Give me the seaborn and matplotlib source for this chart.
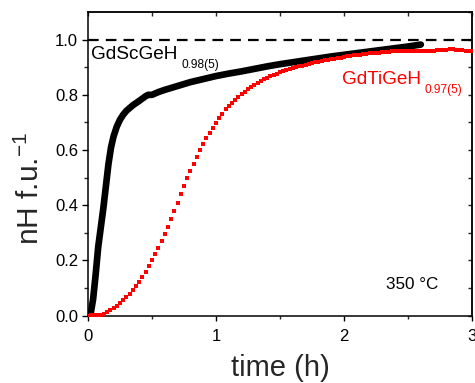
import numpy as np
import pandas as pd
import matplotlib
matplotlib.use("Agg")
import matplotlib.pyplot as plt
import seaborn as sns

# ---- data ----
sc_time = [0.000, 0.020, 0.040, 0.060, 0.080, 0.100, 0.120, 0.140, 0.160, 0.180,
           0.200, 0.225, 0.250, 0.275, 0.300, 0.350, 0.400, 0.450, 0.470, 0.500,
           0.550, 0.600, 0.700, 0.800, 0.900, 1.000, 1.100, 1.200, 1.300, 1.400,
           1.500, 1.600, 1.700, 1.800, 1.900, 2.000, 2.100, 2.200, 2.300, 2.400,
           2.500, 2.600]
sc_nh = [0.000, 0.005, 0.060, 0.150, 0.250, 0.320, 0.390, 0.470, 0.550, 0.610,
         0.650, 0.685, 0.710, 0.728, 0.742, 0.762, 0.778, 0.795, 0.800, 0.800,
         0.810, 0.818, 0.832, 0.846, 0.857, 0.868, 0.877, 0.885, 0.894, 0.903,
         0.911, 0.918, 0.925, 0.932, 0.939, 0.945, 0.951, 0.957, 0.963, 0.969,
         0.975, 0.982]

ti_time = [round(0.025 * i, 3) for i in range(121)]
ti_nh = [0.000, 0.001, 0.002, 0.003, 0.004, 0.007, 0.012, 0.019, 0.027, 0.036,
         0.046, 0.057, 0.068, 0.080, 0.093, 0.107, 0.122, 0.140, 0.160, 0.180,
         0.200, 0.222, 0.245, 0.270, 0.296, 0.323, 0.352, 0.381, 0.410, 0.440,
         0.470, 0.497, 0.523, 0.548, 0.575, 0.600, 0.622, 0.643, 0.662, 0.681,
         0.699, 0.716, 0.732, 0.747, 0.760, 0.772, 0.783, 0.793, 0.802, 0.811,
         0.820, 0.828, 0.836, 0.843, 0.850, 0.856, 0.862, 0.867, 0.872, 0.877,
         0.881, 0.885, 0.889, 0.893, 0.897, 0.900, 0.903, 0.906, 0.909, 0.912,
         0.915, 0.918, 0.920, 0.922, 0.925, 0.927, 0.929, 0.931, 0.933, 0.935,
         0.937, 0.939, 0.941, 0.943, 0.944, 0.946, 0.947, 0.948, 0.950, 0.951,
         0.952, 0.953, 0.954, 0.955, 0.956, 0.957, 0.957, 0.958, 0.958, 0.959,
         0.959, 0.959, 0.960, 0.960, 0.960, 0.960, 0.960, 0.960, 0.960, 0.961,
         0.961, 0.962, 0.963, 0.965, 0.966, 0.964, 0.962, 0.961, 0.960, 0.960,
         0.960]

x_ticks = [0, 1, 2, 3]
y_ticks = [0.0, 0.2, 0.4, 0.6, 0.8, 1.0]

sns.set_style("ticks")
plt.rcParams['font.family'] = ['Liberation Sans', 'DejaVu Sans']
plt.rcParams['mathtext.fontset'] = 'custom'
plt.rcParams['mathtext.rm'] = 'Liberation Sans'
plt.rcParams['mathtext.it'] = 'Liberation Sans:italic'
plt.rcParams['mathtext.bf'] = 'Liberation Sans:bold'

W, H = 475, 383
fig = plt.figure(figsize=(W / 100, H / 100), dpi=100)
L, R, T, B = 88, 472, 12, 315.7
ax = fig.add_axes([L / W, 1 - B / H, (R - L) / W, (B - T) / H])

df_sc = pd.DataFrame({"time": sc_time, "nH": sc_nh})
df_ti = pd.DataFrame({"time": ti_time, "nH": ti_nh})

ax.axhline(1.0, color='black', lw=1.6, linestyle=(0, (4.8, 3.2)), zorder=1)
sns.lineplot(data=df_sc, x="time", y="nH", ax=ax, color='black', lw=4.8,
             solid_capstyle='round', solid_joinstyle='round', zorder=3)
sns.scatterplot(data=df_ti, x="time", y="nH", ax=ax, color='#ff0000', marker='s',
                s=10, linewidth=0, zorder=4)

ax.set_xlim(0, 3)
ax.set_ylim(0, 1.1)
ax.set_xticks(x_ticks)
ax.set_xticklabels([str(v) for v in x_ticks])
ax.set_xticks([0.5, 1.5, 2.5], minor=True)
ax.set_yticks(y_ticks)
ax.set_yticklabels([f"{v:.1f}" for v in y_ticks])
ax.set_yticks([0.1, 0.3, 0.5, 0.7, 0.9], minor=True)

for sp in ax.spines.values():
    sp.set_linewidth(1.1)
    sp.set_color('black')

ax.tick_params(axis='both', which='major', direction='out', length=4.6, width=1.0,
               labelsize=12, colors='black', top=False, right=False)
ax.tick_params(axis='both', which='minor', direction='out', length=2.6, width=1.0,
               top=False, right=False)
ax.tick_params(axis='x', which='major', pad=5.5, length=3.8)
ax.tick_params(axis='x', which='minor', length=2.2)
ax.tick_params(axis='y', which='major', pad=2.5)

# top and right inward ticks
axt = ax.secondary_xaxis('top')
axt.set_xticks([0, 0.5, 1, 1.5, 2, 2.5, 3])
axt.tick_params(direction='in', length=3, width=1.0, labeltop=False)
axt.spines['top'].set_linewidth(1.1)
axr = ax.secondary_yaxis('right')
axr.set_yticks([0, 0.1, 0.2, 0.3, 0.4, 0.5, 0.6, 0.7, 0.8, 0.9, 1.0, 1.1])
axr.tick_params(direction='in', length=3, width=1.0, labelright=False)
axr.spines['right'].set_linewidth(1.1)

ax.set_xlabel("time (h)", fontsize=21)
ax.set_ylabel(r"nH f.u.$^{\mathregular{-1}}$", fontsize=21.5)
ax.yaxis.set_label_coords(-0.112, 0.42)
ax.xaxis.set_label_coords(0.5, -0.125)

# annotations
def px2data(px, py):
    return (px - L) / (R - L) * 3.0, (B - py) / (B - T) * 1.1

x0, y0 = px2data(91.5, 59)
ax.text(x0, y0, "GdScGeH", fontsize=13.7, color='black', va='baseline', ha='left')
x0, y0 = px2data(182, 68)
ax.text(x0, y0, "0.98(5)", fontsize=8.6, color='black', va='baseline', ha='left')
x0, y0 = px2data(342, 84)
ax.text(x0, y0, "GdTiGeH", fontsize=13.7, color='#ff0000', va='baseline', ha='left')
x0, y0 = px2data(425, 93)
ax.text(x0, y0, "0.97(5)", fontsize=8.6, color='#ff0000', va='baseline', ha='left')
x0, y0 = px2data(386, 289)
ax.text(x0, y0, "350 °C", fontsize=12.3, color='black', va='baseline', ha='left')

fig.savefig("out.png", dpi=100)
